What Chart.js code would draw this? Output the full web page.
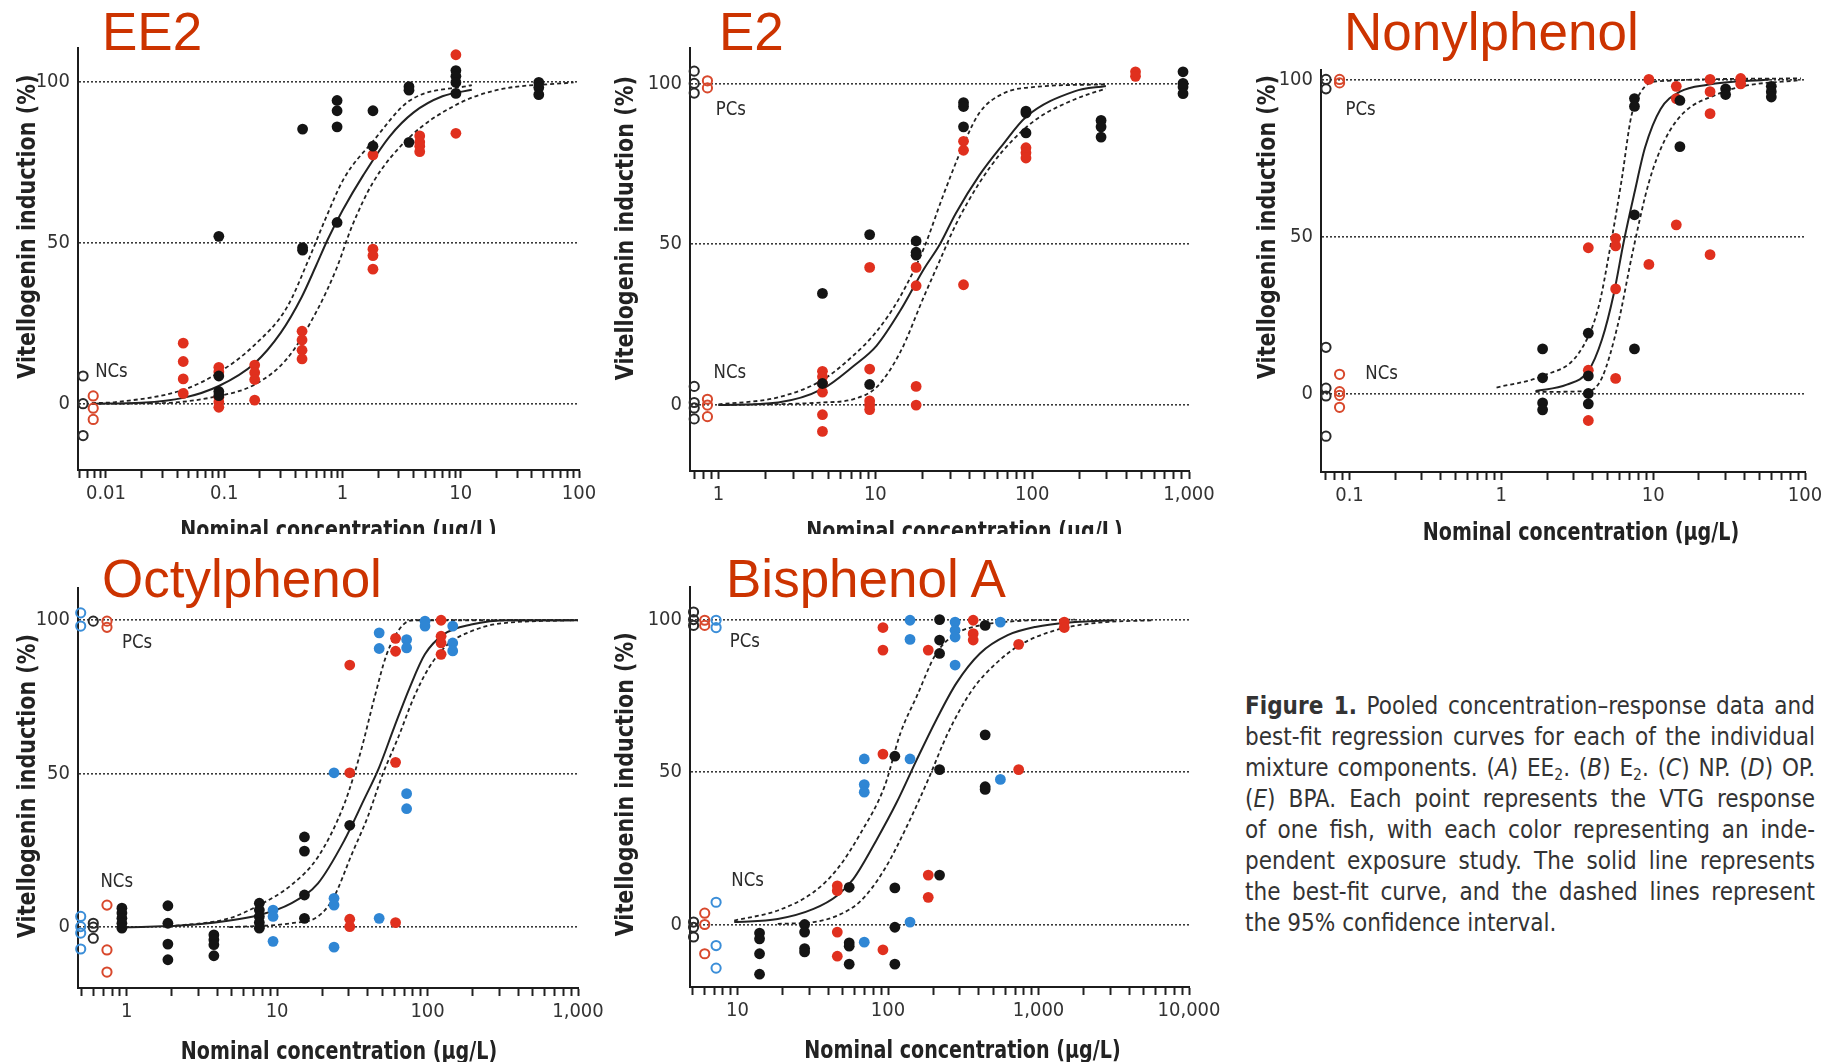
<!DOCTYPE html>
<html lang="en">
<head>
<meta charset="UTF-8">
<title>Pooled concentration-response data</title>
<script src="https://cdn.jsdelivr.net/npm/chart.js"></script>
<style>
  html, body { margin: 0; padding: 0; background: #fff; }
  body { position: relative; width: 1828px; height: 1062px; overflow: hidden; }
  canvas { position: absolute; }
  .ttl { position: absolute; font-family: 'Liberation Sans', Arial, sans-serif; font-size: 53px; line-height: 1; color: #cc3300; white-space: nowrap; }
  #cap { position: absolute; left: 1245px; top: 691px; width: 570px; font-family: 'Liberation Sans Narrow', 'DejaVu Sans Condensed', sans-serif; font-size: 24px; line-height: 31px; color: #333; }
  #cap .ln { text-align: justify; text-align-last: justify; }
  #cap .ln.last { text-align-last: left; }
  #cap sub { font-size: 0.65em; line-height: 0; vertical-align: -0.25em; }
</style>
</head>
<body>
<div class="ttl" style="left:102px; top:5px">EE2</div>
<div class="ttl" style="left:719px; top:5px">E2</div>
<div class="ttl" style="left:1344px; top:5px">Nonylphenol</div>
<div class="ttl" style="left:102px; top:552px">Octylphenol</div>
<div class="ttl" style="left:726px; top:552px">Bisphenol A</div>

<canvas id="ee2"></canvas>
<canvas id="e2"></canvas>
<canvas id="np"></canvas>
<canvas id="op"></canvas>
<canvas id="bpa"></canvas>

<div id="cap">
  <div class="ln"><b>Figure 1.</b> Pooled concentration–response data and</div>
  <div class="ln">best-fit regression curves for each of the individual</div>
  <div class="ln">mixture components. (<i>A</i>) EE<sub>2</sub>. (<i>B</i>) E<sub>2</sub>. (<i>C</i>) NP. (<i>D</i>) OP.</div>
  <div class="ln">(<i>E</i>) BPA. Each point represents the VTG response</div>
  <div class="ln">of one fish, with each color representing an inde-</div>
  <div class="ln">pendent exposure study. The solid line represents</div>
  <div class="ln">the best-fit curve, and the dashed lines represent</div>
  <div class="ln last">the 95% confidence interval.</div>
</div>

<script>
// ---- EE2 ----
const ee2BlackOpen = [[0.0064, 8.6], [0.0064, 0], [0.0064, -9.9]];
const ee2RedOpen = [[0.0078, 2.4], [0.0078, -1.4], [0.0078, -4.9]];
const ee2Black = [[0.09, 52], [0.09, 8.6], [0.09, 3.8], [0.09, 2.5], [0.46, 85.3], [0.46, 48.5], [0.46, 47.7],
  [0.9, 94.2], [0.9, 91], [0.9, 86], [0.9, 56.3], [1.81, 91], [1.81, 80], [3.65, 98.5], [3.65, 97.4], [3.65, 81.2],
  [9.1, 103.5], [9.1, 101.7], [9.1, 99.8], [9.1, 96.4], [45.7, 99.8], [45.7, 98.2], [45.7, 96]];
const ee2Red = [[0.045, 18.8], [0.045, 13.1], [0.045, 7.7], [0.045, 3.2], [0.09, 11.3], [0.09, 9.9], [0.09, 2], [0.09, 0.5], [0.09, -1.1],
  [0.181, 12], [0.181, 9.7], [0.181, 7.5], [0.181, 1.1], [0.455, 22.5], [0.455, 19.8], [0.455, 16.6], [0.455, 13.9],
  [1.81, 77.3], [1.81, 48], [1.81, 46], [1.81, 41.8], [4.5, 83.2], [4.5, 81.3], [4.5, 80], [4.5, 78.3], [9.1, 108.4], [9.1, 84]];
const ee2Fit = [[0.0076, 0], [0.02, 0.3], [0.045, 1.8], [0.09, 5.5], [0.18, 12.5], [0.3, 22], [0.45, 33], [0.6, 43], [0.75, 51],
  [1.0, 60], [1.5, 71], [2.5, 83], [4, 90.5], [7, 95.5], [12.4, 97.5]];
const ee2Upper = [[0.0076, 0.2], [0.012, 0.5], [0.045, 4.3], [0.09, 9.7], [0.18, 18.2], [0.34, 30], [0.52, 45], [0.71, 57],
  [1.03, 70], [1.81, 81.5], [3.65, 94], [12.4, 99]];
const ee2Lower = [[0.0076, 0], [0.03, 0.2], [0.09, 2.4], [0.18, 5.9], [0.34, 14], [0.61, 29], [0.89, 42], [1.2, 55],
  [1.81, 68.7], [3.65, 82.6], [9.1, 92.8], [20, 97.4], [90, 99.8]];
const ee2Notes = [['NCs', 0.0081, 9.9]];

// ---- E2 ----
const e2BlackOpen = [[0.7, 103.8], [0.7, 100], [0.7, 97], [0.7, 5.8], [0.7, 0.8], [0.7, -0.9], [0.7, -4.3]];
const e2RedOpen = [[0.85, 100.8], [0.85, 98.6], [0.85, 1.8], [0.85, 0], [0.85, -3.6]];
const e2Black = [[4.6, 34.7], [4.6, 6.7], [9.2, 53], [9.2, 6.4], [18.2, 51], [18.2, 47.5], [18.2, 46.6],
  [36.5, 94], [36.5, 92.8], [36.5, 86.5], [91.3, 91.4], [91.3, 90.8], [91.3, 84.6], [275, 88.5], [275, 86.5], [275, 83.3],
  [916, 103.6], [916, 100], [916, 98.9], [916, 96.8]];
const e2Red = [[4.6, 10.5], [4.6, 8.8], [4.6, 6.7], [4.6, 4], [4.6, -3], [4.6, -8.2], [9.2, 42.8], [9.2, 11.2], [9.2, 1.3], [9.2, 0], [9.2, -1.4],
  [18.2, 42.8], [18.2, 37.1], [18.2, 5.8], [18.2, 0], [36.5, 82], [36.5, 79.2], [36.5, 37.4], [91.3, 80], [91.3, 78.4], [91.3, 76.8],
  [456, 103.6], [456, 102.2]];
const e2Fit = [[1, 0], [2.4, 0.8], [4.6, 5], [7.2, 12], [10.2, 18.5], [14.4, 29.3], [20.4, 42.3], [25.8, 50], [32.5, 59.5],
  [46, 71.4], [65, 81], [91, 89.5], [186, 97.5], [295, 99.2]];
const e2Upper = [[1, 0.2], [2.4, 2.4], [4.6, 7.8], [7.2, 15.3], [10.2, 22.9], [14.4, 33.7], [20.4, 48.8], [27, 65], [36.5, 81],
  [46, 90.8], [65, 96.8], [104, 98.9], [295, 99.7]];
const e2Lower = [[1, 0], [4.6, 0.8], [7.2, 1.8], [10.2, 5.6], [14.4, 16.4], [20.4, 33.7], [25.8, 45], [32.5, 56], [46, 69],
  [65, 79], [104, 88.5], [186, 95], [295, 98.4]];
const e2Notes = [['PCs', 0.96, 91.7], ['NCs', 0.93, 10.1]];

// ---- Nonylphenol ----
const npBlackOpen = [[0.07, 100], [0.07, 97], [0.07, 14.7], [0.07, 1.7], [0.07, -0.8], [0.07, -13.6]];
const npRedOpen = [[0.086, 100], [0.086, 98.9], [0.086, 6.1], [0.086, 0.6], [0.086, -0.6], [0.086, -4.4]];
const npBlack = [[1.87, 14.2], [1.87, 5], [1.87, -3], [1.87, -5.2], [3.74, 19.2], [3.74, 5.6], [3.74, 0], [3.74, -3.3],
  [7.53, 93.9], [7.53, 91.4], [7.53, 56.9], [7.53, 14.2], [15, 93.3], [15, 78.6], [30, 97], [30, 95.2],
  [60, 97.8], [60, 96.1], [60, 94.4]];
const npRed = [[3.74, 46.4], [3.74, 7.4], [3.74, -8.6], [5.66, 49.4], [5.66, 47], [5.66, 33.3], [5.66, 4.8], [9.37, 100], [9.37, 41.1],
  [14.2, 97.8], [14.2, 93.9], [14.2, 53.7], [23.7, 100], [23.7, 96.1], [23.7, 89.1], [23.7, 44.2], [37.7, 100.3], [37.7, 98.6]];
const npFit = [[1.68, 0.8], [2.7, 2.8], [3.74, 7.2], [4.6, 17.2], [5.5, 31.7], [6.4, 48.3], [7.53, 63.9], [8.84, 78.3],
  [11.2, 90.6], [15, 96.1], [22.8, 98.3], [58.7, 100]];
const npUpper = [[0.93, 1.9], [1.87, 5.6], [3.23, 12.8], [4.35, 27.2], [5.19, 46], [6.2, 68], [7.18, 88.3], [8.32, 96.1],
  [10.5, 99.4], [94, 100.3]];
const npLower = [[1.68, 0.5], [3.74, 0.8], [4.6, 5], [5.84, 21.7], [7.4, 46], [9.37, 67.2], [11.9, 80.6], [15.9, 89.4],
  [25.6, 95], [38.8, 97.8], [94, 99.8]];
const npNotes = [['PCs', 0.094, 90.3], ['NCs', 0.127, 6.3]];

// ---- Octylphenol ----
const opBlueOpen = [[0.495, 102.4], [0.495, 98.1], [0.495, 3.5], [0.495, 0.2], [0.495, -1.9], [0.495, -7.1]];
const opBlackOpen = [[0.6, 99.7], [0.6, 1.3], [0.6, 0], [0.6, -3.6]];
const opRedOpen = [[0.74, 99.7], [0.74, 97.7], [0.74, 7.2], [0.74, -7.4], [0.74, -14.6]];
const opBlack = [[0.93, 6.2], [0.93, 4.6], [0.93, 2.9], [0.93, 1.3], [0.93, -0.3], [1.88, 7], [1.88, 1.3], [1.88, -5.5], [1.88, -10.6],
  [3.8, -2.5], [3.8, -4.1], [3.8, -5.7], [3.8, -9.3], [7.62, 7.8], [7.62, 5.6], [7.62, 3.5], [7.62, 1.5], [7.62, -0.3],
  [15.2, 29.4], [15.2, 24.8], [15.2, 10.5], [15.2, 2.9], [30.4, 33.2]];
const opRed = [[30.4, 85.4], [30.4, 50.3], [30.4, 2.6], [30.4, 0.2], [61.3, 94.1], [61.3, 89.9], [61.3, 53.7], [61.3, 1.5],
  [123, 100], [123, 94.8], [123, 92.6], [123, 88.9]];
const opBlue = [[9.4, 5.6], [9.4, 3.5], [9.4, -4.6], [23.9, 50.3], [23.9, 9.4], [23.9, 7.2], [23.9, -6.5], [47.7, 95.9], [47.7, 90.8], [47.7, 2.9],
  [72.6, 93.7], [72.6, 91], [72.6, 43.5], [72.6, 38.6], [96.2, 99.7], [96.2, 98.1], [147, 98.1], [147, 92.6], [147, 90]];
const opFit = [[1, 0], [2.7, 0.8], [7.6, 4], [12.4, 7.8], [18.7, 14.3], [28, 28.3], [37.6, 41.3], [47.7, 52.1], [60, 65.1],
  [76, 78], [96, 88.9], [128, 95.4], [195, 98.6], [350, 100], [1000, 100]];
const opUpper = [[1.9, 0.2], [4.8, 2.9], [7.6, 7.2], [12.4, 13.7], [18.7, 22.9], [28, 40.2], [35.6, 56.4], [45, 75.9], [53.5, 88.9],
  [67.5, 98.1], [81, 100], [1000, 100]];
const opLower = [[4.8, 0], [12.4, 1.3], [18.7, 3.5], [23.6, 9.4], [31.5, 24], [40, 35.9], [50.5, 50], [63.8, 61.8], [81, 74.8],
  [102, 84.5], [136, 92.1], [195, 96.4], [291, 98.8], [940, 100]];
const opNotes = [['PCs', 0.93, 92.6], ['NCs', 0.67, 14.8]];

// ---- Bisphenol A ----
const bpaBlackOpen = [[5.1, 102.5], [5.1, 100], [5.1, 98.1], [5.1, 0.8], [5.1, -0.9], [5.1, -4.1]];
const bpaRedOpen = [[6.05, 99.8], [6.05, 98.1], [6.05, 3.7], [6.05, 0], [6.05, -9.6]];
const bpaBlueOpen = [[7.2, 99.8], [7.2, 97.4], [7.2, 7.3], [7.2, -6.9], [7.2, -14.3]];
const bpaBlack = [[14, -2.8], [14, -4.7], [14, -9.6], [14, -16.3], [27.9, 0], [27.9, -2.5], [27.9, -7.9], [27.9, -9],
  [55.2, 12.2], [55.2, -6], [55.2, -7.1], [55.2, -13], [111, 55.2], [111, 12], [111, -0.9], [111, -13],
  [220, 100], [220, 93.3], [220, 88.9], [220, 50.8], [220, 16.2], [442, 98.1], [442, 62.2], [442, 45.2], [442, 44.3]];
const bpaRed = [[46, 12.7], [46, 11.1], [46, -2.5], [46, -10.4], [92.5, 97.4], [92.5, 90], [92.5, 55.9], [92.5, -8.3],
  [185, 90], [185, 16.2], [185, 8.9], [368, 99.8], [368, 95.4], [368, 93.3], [738, 91.9], [738, 50.8], [1483, 99.2], [1483, 97.4]];
const bpaBlue = [[69.5, 54.3], [69.5, 45.9], [69.5, 43.4], [69.5, -5.8], [140, 99.8], [140, 93.5], [140, 54.3], [140, 0.8],
  [279, 99.2], [279, 96.5], [279, 94.3], [279, 85.1], [558, 99.2], [558, 47.6]];
const bpaFit = [[9.5, 0.8], [18.5, 1.8], [32, 5.1], [46, 9.5], [58.7, 14.9], [84.4, 28], [114, 40], [155, 54], [209, 67.1],
  [284, 79.1], [408, 88.9], [624, 94.9], [953, 97.6], [1746, 99.2], [3200, 99.8]];
const bpaUpper = [[9.5, 1.3], [18.5, 4.6], [32, 10.6], [46, 18.2], [66, 30.1], [95, 45.4], [121, 62.8], [155, 74.8], [209, 88.9],
  [284, 95.4], [408, 98.1], [700, 99.5], [1746, 100]];
const bpaLower = [[18.5, 0.2], [32, 0.8], [46, 2.9], [66, 7.8], [95, 18.2], [137, 33.4], [185, 47.6], [250, 62.8], [362, 76.9],
  [521, 85.6], [748, 91.6], [1290, 96.5], [2390, 98.9], [5860, 99.8]];
const bpaNotes = [['PCs', 8.86, 92.7], ['NCs', 9.08, 14.4]];

const NARROW = "'Liberation Sans Narrow', 'DejaVu Sans Condensed', sans-serif";
const COLORS = { k: '#141414', r: '#e0301e', b: '#2f86d4' };
const OPEN = { k: '#2a2a2a', r: '#d8482c', b: '#3b8ed8' };

Chart.defaults.font.family = NARROW;

// chart area placement (page pixels) and axis ranges for each panel
const panels = [
  { id: 'ee2', L: 78, R: 579, T: 48, B: 470, xH: 64, xMin: 0.0058, xMax: 100, yMin: -20.6, yMax: 110.5,
    yAt: 55, yGap: 50, xShift: 10, xGap: 61, curves: [ee2Fit, ee2Upper, ee2Lower],
    sets: [[ee2BlackOpen, 'k', true], [ee2RedOpen, 'r', true], [ee2Black, 'k'], [ee2Red, 'r']], notes: ee2Notes },
  { id: 'e2', L: 690, R: 1189, T: 48, B: 471, xH: 63, xMin: 0.658, xMax: 1000, yMin: -20.5, yMax: 111,
    yAt: 55, yGap: 64, xShift: 25, xGap: 61, curves: [e2Fit, e2Upper, e2Lower],
    sets: [[e2BlackOpen, 'k', true], [e2RedOpen, 'r', true], [e2Black, 'k'], [e2Red, 'r']], notes: e2Notes },
  { id: 'np', L: 1321, R: 1805, T: 70, B: 472, xH: 76, xMin: 0.0649, xMax: 100, yMin: -25, yMax: 103,
    yAt: 53, yGap: 53, xShift: 18, xGap: 61, curves: [npFit, npUpper, npLower],
    sets: [[npBlackOpen, 'k', true], [npRedOpen, 'r', true], [npBlack, 'k'], [npRed, 'r']], notes: npNotes },
  { id: 'op', L: 78, R: 578, T: 588, B: 988, xH: 76, xMin: 0.475, xMax: 1000, yMin: -19.8, yMax: 110.5,
    yAt: 46, yGap: 50, xShift: 11, xGap: 64, curves: [opFit, opUpper, opLower],
    sets: [[opBlueOpen, 'b', true], [opBlackOpen, 'k', true], [opRedOpen, 'r', true], [opBlack, 'k'], [opRed, 'r'], [opBlue, 'b']], notes: opNotes },
  { id: 'bpa', L: 690, R: 1189, T: 587, B: 987, xH: 76, xMin: 4.83, xMax: 10000, yMin: -20.5, yMax: 110.7,
    yAt: 46, yGap: 64, xShift: 23, xGap: 64, curves: [bpaFit, bpaUpper, bpaLower],
    sets: [[bpaBlackOpen, 'k', true], [bpaRedOpen, 'r', true], [bpaBlueOpen, 'b', true], [bpaBlack, 'k'], [bpaRed, 'r'], [bpaBlue, 'b']], notes: bpaNotes }
];

const Y_W = 80, PAD_T = 10, PAD_R = 32;

function toXY(arr) { return arr.map(([x, y]) => ({ x, y })); }

function dots(arr, c, open) {
  return {
    data: toXY(arr), showLine: false, clip: false, order: 1,
    pointRadius: open ? 4.6 : 5.4, pointHoverRadius: 0,
    pointBorderWidth: open ? 2 : 0,
    pointBackgroundColor: open ? 'rgba(0,0,0,0)' : COLORS[c],
    pointBorderColor: open ? OPEN[c] : COLORS[c]
  };
}

function curve(arr, dashed) {
  return {
    data: toXY(arr), showLine: true, pointRadius: 0, order: 2, clip: false,
    borderColor: '#222', borderWidth: dashed ? 1.8 : 2, borderDash: dashed ? [4, 3] : [],
    cubicInterpolationMode: 'monotone', fill: false
  };
}

function logTicks(scale) {
  const t = [];
  const lo = Math.floor(Math.log10(scale.min)), hi = Math.ceil(Math.log10(scale.max));
  for (let e = lo; e <= hi; e++) {
    for (let m = 1; m < 10; m++) {
      const v = m * Math.pow(10, e);
      if (v >= scale.min * 0.999 && v <= scale.max * 1.001) t.push({ value: v, major: m === 1 });
    }
  }
  scale.ticks = t;
}

function fmt(v) { return v >= 1000 ? v.toLocaleString('en-US') : String(v); }

// condensed look: squeeze the axis titles horizontally
function squeezed(ctx, text, x, y, sx) {
  ctx.save();
  ctx.translate(x, y);
  ctx.scale(sx, 1);
  ctx.fillText(text, 0, 0);
  ctx.restore();
}

function textPlugin(p) {
  return {
    id: 'panelText',
    afterDraw(chart) {
      const { ctx, chartArea: a, scales: { x, y } } = chart;
      ctx.save();
      ctx.fillStyle = '#2b2b2b';
      ctx.textBaseline = 'middle';
      ctx.textAlign = 'left';
      ctx.font = '20px ' + NARROW;
      p.notes.forEach(([t, vx, vy]) => squeezed(ctx, t, x.getPixelForValue(vx), y.getPixelForValue(vy), 0.92));
      ctx.fillStyle = '#222';
      ctx.font = 'bold 25px ' + NARROW;
      ctx.textAlign = 'center';
      squeezed(ctx, 'Nominal concentration (µg/L)', (a.left + a.right) / 2 + p.xShift, a.bottom + p.xGap, 0.85);
      ctx.translate(a.left - p.yGap, y.getPixelForValue(p.yAt));
      ctx.rotate(-Math.PI / 2);
      squeezed(ctx, 'Vitellogenin induction (%)', 0, 0, 0.92);
      ctx.restore();
    }
  };
}

panels.forEach(p => {
  const cv = document.getElementById(p.id);
  const w = Y_W + (p.R - p.L) + PAD_R;
  const h = PAD_T + (p.B - p.T) + p.xH;
  cv.width = w; cv.height = h;
  cv.style.left = (p.L - Y_W) + 'px';
  cv.style.top = (p.T - PAD_T) + 'px';
  cv.style.width = w + 'px'; cv.style.height = h + 'px';

  const datasets = [curve(p.curves[0], false), curve(p.curves[1], true), curve(p.curves[2], true)]
    .concat(p.sets.map(s => dots(s[0], s[1], s[2])));

  new Chart(cv, {
    type: 'scatter',
    data: { datasets },
    plugins: [textPlugin(p)],
    options: {
      responsive: false,
      animation: false,
      events: [],
      layout: { padding: { left: 0, right: PAD_R, top: PAD_T, bottom: 0 } },
      plugins: { legend: { display: false }, tooltip: { enabled: false } },
      scales: {
        x: {
          type: 'logarithmic', min: p.xMin, max: p.xMax,
          afterBuildTicks: logTicks,
          afterFit: s => { s.height = p.xH; s.paddingLeft = 0; s.paddingRight = 0; },
          ticks: {
            autoSkip: false, maxRotation: 0, minRotation: 0, padding: 4, color: '#333', font: { size: 20 },
            callback: (v, i, t) => (t[i].major ? fmt(v) : '')
          },
          grid: { drawOnChartArea: false, drawTicks: true, tickLength: 8, tickWidth: 2, tickColor: '#222' },
          border: { display: true, color: '#1c1c1c', width: 2 }
        },
        y: {
          min: p.yMin, max: p.yMax,
          afterBuildTicks: s => { s.ticks = [0, 50, 100].map(v => ({ value: v })); },
          afterFit: s => { s.width = Y_W; s.paddingTop = 0; s.paddingBottom = 0; },
          ticks: { padding: 8, color: '#333', font: { size: 20 } },
          grid: { drawTicks: false, color: '#3a3a3a', lineWidth: 1.6 },
          border: { display: true, color: '#1c1c1c', width: 2, dash: [2, 2] }
        }
      }
    }
  });
});
</script>
</body>
</html>
